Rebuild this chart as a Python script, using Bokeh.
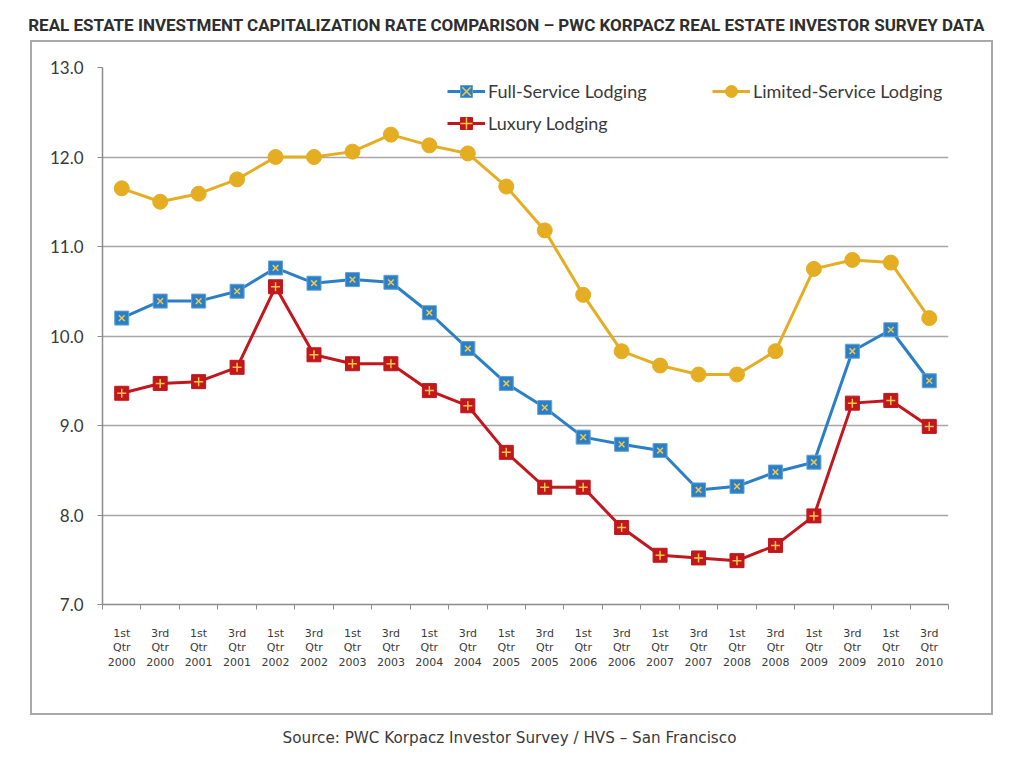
from bokeh.plotting import figure
from bokeh.layouts import column, row
from bokeh.models import (Range1d, FixedTicker, PrintfTickFormatter, Legend,
                          LegendItem, Spacer, ColumnDataSource)
from bokeh.core.properties import value
from bokeh.embed import file_html
from bokeh.resources import INLINE

title_text = ("REAL ESTATE INVESTMENT CAPITALIZATION RATE COMPARISON \u2013 "
              "PWC KORPACZ REAL ESTATE INVESTOR SURVEY DATA")
source_text = "Source: PWC Korpacz Investor Survey / HVS \u2013 San Francisco"

quarters = ["1st", "3rd"] * 11
years = [str(y) for y in range(2000, 2011) for _ in range(2)]
categories = [f"{q}\nQtr\n{y}" for q, y in zip(quarters, years)]

full_service = [10.20, 10.39, 10.39, 10.50, 10.76, 10.59, 10.63, 10.60, 10.26, 9.86,
                9.47, 9.20, 8.87, 8.79, 8.72, 8.28, 8.32, 8.48, 8.59, 9.83, 10.07, 9.50]
limited_service = [11.65, 11.50, 11.59, 11.75, 12.00, 12.00, 12.06, 12.25, 12.13, 12.04,
                   11.67, 11.18, 10.46, 9.83, 9.67, 9.57, 9.57, 9.83, 10.75, 10.85, 10.82, 10.20]
luxury = [9.36, 9.47, 9.49, 9.65, 10.55, 9.79, 9.69, 9.69, 9.39, 9.22,
          8.70, 8.31, 8.31, 7.86, 7.55, 7.52, 7.49, 7.66, 7.99, 9.25, 9.28, 8.99]
y_ticks = [7, 8, 9, 10, 11, 12, 13]

BLUE = "#2a7fc6"
GOLD = "#e5ad22"
RED = "#c1171d"
INNER = "#f2c84a"
TXT = "#3a3a3a"
GRID = "#a6a6a6"

# ---- title strip
pt = figure(width=1016, height=40, x_range=Range1d(0, 1016), y_range=Range1d(0, 40),
            toolbar_location=None, output_backend="svg", min_border=0,
            x_axis_location=None, y_axis_location=None)
pt.grid.visible = False
pt.outline_line_color = None
pt.text(x=[506], y=[16], text=[title_text], text_font=value("Roboto"),
        text_font_style="bold", text_font_size="17px", text_align="center",
        text_baseline="middle", text_color="#2e2e2e")

# ---- main chart
x = list(range(len(categories)))
src = ColumnDataSource(dict(x=x, full=full_service, limited=limited_service, luxury=luxury))

p = figure(width=963, height=675, x_range=Range1d(-0.5, len(categories) - 0.5),
           y_range=Range1d(7, 13), toolbar_location=None, output_backend="svg",
           min_border_left=70, min_border_right=47, min_border_top=25, min_border_bottom=113)
p.styles = {"border": "2px solid #a9a9a9"}
p.outline_line_color = None
p.xgrid.visible = False
p.ygrid.grid_line_color = GRID
p.ygrid.grid_line_width = 1.5
p.ygrid.ticker = FixedTicker(ticks=y_ticks)

p.yaxis.ticker = FixedTicker(ticks=y_ticks)
p.yaxis.formatter = PrintfTickFormatter(format="%.1f")
p.yaxis.axis_line_color = "#8c8c8c"
p.yaxis.axis_line_width = 1.5
p.yaxis.major_tick_line_color = "#8c8c8c"
p.yaxis.major_tick_out = 5
p.yaxis.major_tick_in = 0
p.yaxis.minor_tick_line_color = None
p.yaxis.major_label_text_font = "Lato"
p.yaxis.major_label_text_font_size = "17px"
p.yaxis.major_label_text_color = TXT
p.yaxis.major_label_standoff = 14

p.xaxis.ticker = FixedTicker(ticks=x, minor_ticks=[i - 0.5 for i in range(len(categories) + 1)])
p.xaxis.major_label_overrides = {i: c for i, c in zip(x, categories)}
p.xaxis.axis_line_color = "#8c8c8c"
p.xaxis.axis_line_width = 1.5
p.xaxis.major_tick_line_color = None
p.xaxis.major_tick_out = 0
p.xaxis.major_tick_in = 0
p.xaxis.minor_tick_line_color = "#8c8c8c"
p.xaxis.minor_tick_out = 5
p.xaxis.minor_tick_in = 0
p.xaxis.major_label_text_font = "DejaVu Sans"
p.xaxis.major_label_text_font_size = "11px"
p.xaxis.major_label_text_color = TXT
p.xaxis.major_label_text_line_height = 1.12
p.xaxis.major_label_standoff = 17

bl = p.line("x", "full", source=src, line_color=BLUE, line_width=3)
bs = p.scatter("x", "full", source=src, marker="square", size=14, fill_color=BLUE,
               line_color="#5fa0d6", line_width=1)
bx = p.scatter("x", "full", source=src, marker="x", size=8, line_color=INNER, line_width=1.5)

yl = p.line("x", "limited", source=src, line_color=GOLD, line_width=3)
ys = p.scatter("x", "limited", source=src, marker="circle", size=15, fill_color=GOLD,
               line_color=GOLD)

rl = p.line("x", "luxury", source=src, line_color=RED, line_width=3)
rs = p.scatter("x", "luxury", source=src, marker="square", size=14, fill_color=RED,
               line_color=RED, line_width=1)
rx = p.scatter("x", "luxury", source=src, marker="cross", size=9, line_color=INNER, line_width=1.5)

legend = Legend(items=[
    LegendItem(label="Full-Service Lodging", renderers=[bl, bs, bx]),
    LegendItem(label="Limited-Service Lodging", renderers=[yl, ys]),
    LegendItem(label="Luxury Lodging", renderers=[rl, rs, rx]),
], orientation="horizontal", ncols=2, location=(345, 466))
legend.glyph_width = 38
legend.glyph_height = 30
legend.label_standoff = 3
legend.label_width = 222
legend.spacing = 2
legend.padding = 0
legend.margin = 0
legend.border_line_color = None
legend.background_fill_alpha = 0
legend.label_text_font = "Lato"
legend.label_text_font_size = "18px"
legend.label_text_color = TXT
p.add_layout(legend, "center")

# ---- source strip
ps = figure(width=1016, height=40, x_range=Range1d(0, 1016), y_range=Range1d(0, 40),
            toolbar_location=None, output_backend="svg", min_border=0,
            x_axis_location=None, y_axis_location=None)
ps.grid.visible = False
ps.outline_line_color = None
ps.text(x=[509], y=[18], text=[source_text], text_font=value("DejaVu Sans"),
        text_font_size="15.2px", text_align="center", text_baseline="middle", text_color=TXT)

layout = column(pt, row(Spacer(width=30, height=675), p), ps)
open("out.html", "w").write(file_html(layout, INLINE))
